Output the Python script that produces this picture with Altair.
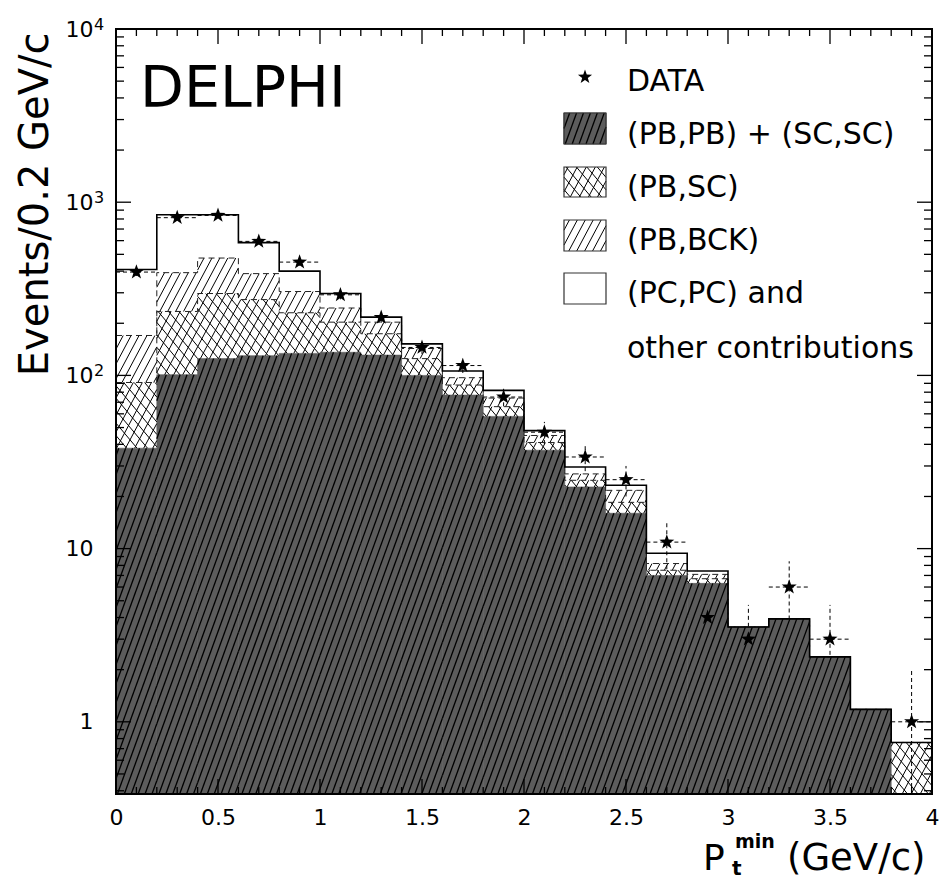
import math
import altair as alt
import pandas as pd

# ---------------- data ----------------
BIN_LO = [0.0, 0.2, 0.4, 0.6, 0.8, 1.0, 1.2, 1.4, 1.6, 1.8,
          2.0, 2.2, 2.4, 2.6, 2.8, 3.0, 3.2, 3.4, 3.6, 3.8]
BIN_WIDTH = 0.2
# cumulative (stacked) levels, Events / 0.2 GeV/c
PBPB_SCSC = [38, 101, 125, 130, 134, 136, 131, 100, 77, 58,
             37, 22.7, 16, 7.0, 6.3, 3.53, 3.93, 2.37, 1.18, None]
PBSC_CUM = [91, 234, 297, 274, 230, 203, 174, 125, 88, 66,
            41, 24.8, 18.5, 7.5, 6.7, 3.53, 3.93, 2.37, 1.18, 0.76]
PBBCK_CUM = [170, 392, 476, 387, 305, 245, 203, 143, 97, 74,
             45, 27, 21.7, 8.2, 7.1, 3.53, 3.93, 2.37, 1.18, 0.76]
TOTAL_CUM = [409, 847, 847, 584, 400, 297, 217, 152, 106, 82,
             48, 29.6, 23.2, 9.4, 7.43, 3.53, 3.93, 2.37, 1.18, 0.76]
DATA_Y = [395, 814, 839, 594, 451, 292, 216, 145, 114, 75,
          47, 33.8, 25, 10.9, 4.0, 3.0, 6.0, 3.0, None, 1.0]
DATA_ERR = [20, 28.5, 29, 24.4, 21.2, 17.1, 14.7, 12.0, 10.7, 8.7,
            6.9, 5.8, 5.0, 3.3, 2.0, 1.73, 2.45, 1.73, None, 1.0]

X_MAJOR = [0, 0.5, 1, 1.5, 2, 2.5, 3, 3.5, 4]
X_MINOR = [0.1, 0.2, 0.3, 0.4, 0.6, 0.7, 0.8, 0.9, 1.1, 1.2, 1.3, 1.4,
           1.6, 1.7, 1.8, 1.9, 2.1, 2.2, 2.3, 2.4, 2.6, 2.7, 2.8, 2.9,
           3.1, 3.2, 3.3, 3.4, 3.6, 3.7, 3.8, 3.9]
Y_MAJOR = [1, 10, 100, 1000, 10000]
Y_LABEL_BASE = ["1", "10", "10", "10", "10"]
Y_LABEL_EXP = ["", "", "2", "3", "4"]
Y_MINOR = [0.4, 0.5, 0.6, 0.7, 0.8, 0.9,
           2, 3, 4, 5, 6, 7, 8, 9,
           20, 30, 40, 50, 60, 70, 80, 90,
           200, 300, 400, 500, 600, 700, 800, 900,
           2000, 3000, 4000, 5000, 6000, 7000, 8000, 9000]

LEGEND_LABELS = ["DATA", "(PB,PB) + (SC,SC)", "(PB,SC)", "(PB,BCK)",
                 "(PC,PC) and", "other contributions"]

# ---------------- layout / style ----------------
W, H = 816, 765
YMIN, YMAX = 0.383, 10000
XMIN, XMAX = 0, 4
FONT = "DejaVu Sans"
DARK = "#5c5c5c"
PXX = W / (XMAX - XMIN)
PXY = H / (math.log10(YMAX) - math.log10(YMIN))

xscale = alt.Scale(domain=[XMIN, XMAX], nice=False, zero=False)
yscale = alt.Scale(type="log", domain=[YMIN, YMAX], nice=False)
xaxis = alt.Axis(values=X_MAJOR, format="~g", ticks=False, tickSize=0, domain=False,
                 grid=False, labelFont=FONT, labelFontSize=22, labelPadding=13,
                 labelFlush=False, labelOverlap=False, labelColor="black", title=None)
yaxis = alt.Axis(values=Y_MAJOR,
                 labelExpr="datum.value >= 10 ? '10' : '1'",
                 ticks=False, tickSize=0, domain=False, grid=False,
                 labelFont=FONT, labelFontSize=22, labelPadding=23,
                 labelFlush=False, labelOverlap=False, labelColor="black",
                 title="Events/0.2 GeV/c", titleFont=FONT, titleFontSize=40,
                 titleFontWeight="normal", titleColor="black", titleAngle=270,
                 titleAlign="right", titleBaseline="alphabetic", titleX=-69, titleY=3)


def X(field):
    return alt.X(field, type="quantitative", scale=xscale, axis=xaxis)


def Y(field):
    return alt.Y(field, type="quantitative", scale=yscale, axis=yaxis)


def hatch(X0, X1, Y0, Y1, angle, spacing):
    """Segments of a line family clipped to a rectangle (pixel-like space)."""
    th = math.radians(angle)
    dx, dy = math.cos(th), math.sin(th)
    nx, ny = -dy, dx
    cs = [nx * a + ny * b for a in (X0, X1) for b in (Y0, Y1)]
    out = []
    for k in range(math.ceil(min(cs) / spacing), math.floor(max(cs) / spacing) + 1):
        c = k * spacing
        px, py = c * nx, c * ny
        tlo, thi = -1e9, 1e9
        for p, d, lo, hi in ((px, dx, X0, X1), (py, dy, Y0, Y1)):
            if abs(d) < 1e-12:
                if not (lo <= p <= hi):
                    tlo, thi = 1, 0
                continue
            a, b = (lo - p) / d, (hi - p) / d
            if a > b:
                a, b = b, a
            tlo, thi = max(tlo, a), min(thi, b)
        if thi - tlo > 0.8:
            out.append((px + tlo * dx, py + tlo * dy, px + thi * dx, py + thi * dy))
    return out


def band_hatch(lo, hi, vbot, vtop, families):
    rows = []
    for ang, sp in families:
        for a, b, c, d in hatch(lo * PXX, hi * PXX, math.log10(vbot) * PXY,
                                math.log10(vtop) * PXY, ang, sp):
            rows.append({"x1": a / PXX, "y1": 10 ** (b / PXY),
                         "x2": c / PXX, "y2": 10 ** (d / PXY)})
    return rows


def box_hatch(px0, px1, py0, py1, families):
    """Hatch for a legend box given in plot pixels; converted to data coords."""
    rows = []
    lymin = math.log10(YMIN)
    for ang, sp in families:
        for a, b, c, d in hatch(px0, px1, -py1, -py0, ang, sp):
            rows.append({"x1": a / PXX, "y1": 10 ** ((H + b) / PXY + lymin),
                         "x2": c / PXX, "y2": 10 ** ((H + d) / PXY + lymin)})
    return rows


FAM_DARK = [(70, 6.5)]
FAM_SC = [(62, 8.0), (130, 8.0)]
FAM_BCK = [(62, 7.0)]

# ---------------- tables ----------------
hist = pd.DataFrame({"lo": BIN_LO, "dark": PBPB_SCSC, "sc": PBSC_CUM,
                     "bck": PBBCK_CUM, "tot": TOTAL_CUM})
hist["hi"] = hist["lo"] + BIN_WIDTH
hist["dark_b"] = YMIN

dark_rows, sc_rows, bck_rows = [], [], []
for lo, dk, sc, bk in zip(BIN_LO, PBPB_SCSC, PBSC_CUM, PBBCK_CUM):
    hi = lo + BIN_WIDTH
    base = dk if dk is not None else YMIN
    if dk is not None:
        dark_rows += band_hatch(lo, hi, YMIN, dk, FAM_DARK)
    if sc > base:
        sc_rows += band_hatch(lo, hi, base, sc, FAM_SC)
    if bk > sc:
        bck_rows += band_hatch(lo, hi, sc, bk, FAM_BCK)

# legend boxes (plot pixels)
BOX_X0, BOX_X1 = 448, 490
BOX_Y = [(84, 115), (138, 168), (191, 222), (244, 275)]
dark_box = box_hatch(BOX_X0, BOX_X1, BOX_Y[0][0], BOX_Y[0][1], FAM_DARK)
sc_rows += box_hatch(BOX_X0, BOX_X1, BOX_Y[1][0], BOX_Y[1][1], FAM_SC)
bck_rows += box_hatch(BOX_X0, BOX_X1, BOX_Y[2][0], BOX_Y[2][1], FAM_BCK)

edges = BIN_LO + [XMAX]


def step_frame(levels):
    vals = [v if v is not None else YMIN for v in levels]
    return pd.DataFrame({"x": edges, "v": vals + [vals[-1]]})


pts = pd.DataFrame({"lo": BIN_LO, "y": DATA_Y, "e": DATA_ERR})
pts = pts.dropna()
pts["hi"] = pts["lo"] + BIN_WIDTH
pts["xc"] = pts["lo"] + BIN_WIDTH / 2
pts["ylo"] = (pts["y"] - pts["e"]).clip(lower=YMIN)
pts["yhi"] = pts["y"] + pts["e"]

STAR = ("M0,-1L0.235,-0.324L0.951,-0.309L0.38,0.124L0.588,0.809L0,0.4"
        "L-0.588,0.809L-0.38,0.124L-0.951,-0.309L-0.235,-0.324Z")


def hatch_layer(rows, width=1.0):
    return alt.Chart(pd.DataFrame(rows)).mark_rule(color="black", strokeWidth=width).encode(
        x=X("x1"), x2="x2", y=Y("y1"), y2="y2")


layers = []

# data error bars (dashed), drawn first so the filled regions hide them
layers.append(
    alt.Chart(pts).mark_rule(color="black", strokeWidth=1, strokeDash=[4, 3])
    .encode(x=X("xc"), y=Y("ylo"), y2="yhi")
)
layers.append(
    alt.Chart(pts).mark_rule(color="black", strokeWidth=1, strokeDash=[4, 3])
    .encode(x=X("lo"), x2="hi", y=Y("y"))
)

# dark region fill + hatch
layers.append(
    alt.Chart(hist).transform_filter("isValid(datum.dark)")
    .mark_rect(fill=DARK, stroke=DARK, strokeWidth=0.6)
    .encode(x=X("lo"), x2="hi", y=Y("dark"), y2="dark_b")
)
layers.append(hatch_layer(dark_rows, 1.3))
layers.append(hatch_layer(sc_rows, 1.0))
layers.append(hatch_layer(bck_rows, 1.0))

# dashed tops of the hatched components
for lv in (PBSC_CUM, PBBCK_CUM):
    layers.append(
        alt.Chart(step_frame(lv)).mark_line(interpolate="step-after", color="#222",
                                            strokeWidth=1, strokeDash=[6, 4])
        .encode(x=X("x"), y=Y("v"))
    )
# solid total histogram outline
layers.append(
    alt.Chart(step_frame(TOTAL_CUM)).mark_line(interpolate="step-after", color="black",
                                               strokeWidth=1.6)
    .encode(x=X("x"), y=Y("v"))
)

# stars
layers.append(
    alt.Chart(pts).mark_point(shape=STAR, filled=True, color="black", size=250, opacity=1)
    .encode(x=X("xc"), y=Y("y"))
)

# inward ticks on all four sides
for side_y, sgn in ((H, -1), (0, 1)):
    for vals, ln in ((X_MAJOR, 15), (X_MINOR, 7)):
        layers.append(
            alt.Chart(pd.DataFrame({"v": vals})).mark_rule(color="black", strokeWidth=1.3)
            .encode(x=X("v"), y=alt.value(side_y), y2=alt.value(side_y + sgn * ln))
        )
for side_x, sgn in ((0, 1), (W, -1)):
    for vals, ln in ((Y_MAJOR, 15), (Y_MINOR, 8)):
        layers.append(
            alt.Chart(pd.DataFrame({"v": vals})).mark_rule(color="black", strokeWidth=1.3)
            .encode(y=Y("v"), x=alt.value(side_x), x2=alt.value(side_x + sgn * ln))
        )

# exponents of the y tick labels
yl = pd.DataFrame({"v": Y_MAJOR, "e": Y_LABEL_EXP})
yl = yl[yl["e"] != ""]
layers.append(
    alt.Chart(yl).mark_text(align="left", baseline="alphabetic", font=FONT,
                            fontSize=16, color="black", dy=1)
    .encode(y=Y("v"), x=alt.value(-22), text="e:N")
)

# frame
one = pd.DataFrame({"k": [0]})
layers.append(
    alt.Chart(one).mark_rect(filled=False, stroke="black", strokeWidth=2)
    .encode(x=alt.value(0), x2=alt.value(W), y=alt.value(0), y2=alt.value(H))
)

# DELPHI label
layers.append(
    alt.Chart(one).mark_text(text="DELPHI", align="left", baseline="alphabetic",
                             font=FONT, fontSize=57, color="black")
    .encode(x=alt.value(24), y=alt.value(78))
)

# legend
layers.append(
    alt.Chart(one).mark_point(shape=STAR, filled=True, color="black", size=220, opacity=1)
    .encode(x=alt.value(469), y=alt.value(48))
)
layers.append(
    alt.Chart(one).mark_rect(fill=DARK, stroke=DARK)
    .encode(x=alt.value(BOX_X0), x2=alt.value(BOX_X1),
            y=alt.value(BOX_Y[0][0]), y2=alt.value(BOX_Y[0][1]))
)
layers.append(hatch_layer(dark_box, 1.3))
for (y0, y1) in BOX_Y:
    layers.append(
        alt.Chart(one).mark_rect(filled=False, stroke="#333", strokeWidth=1.2)
        .encode(x=alt.value(BOX_X0), x2=alt.value(BOX_X1), y=alt.value(y0), y2=alt.value(y1))
    )
LEG_BASE = [62, 115, 168, 221, 274, 329]
for lab, yb in zip(LEGEND_LABELS, LEG_BASE):
    layers.append(
        alt.Chart(one).mark_text(text=lab, align="left", baseline="alphabetic",
                                 font=FONT, fontSize=30, color="black")
        .encode(x=alt.value(511), y=alt.value(yb))
    )

# x-axis title  P_t^min (GeV/c)
for txt, xx, yy, fs, fw in (("P", 587, 841, 36, "normal"),
                            ("t", 616, 846, 20, "bold"),
                            ("min", 619, 819, 19, "bold"),
                            ("(GeV/c)", 671, 841, 37, "normal")):
    layers.append(
        alt.Chart(one).mark_text(text=txt, align="left", baseline="alphabetic",
                                 font=FONT, fontSize=fs, fontWeight=fw, color="black")
        .encode(x=alt.value(xx), y=alt.value(yy))
    )

chart = (
    alt.layer(*layers)
    .properties(width=W, height=H,
                autosize=alt.AutoSizeParams(type="none"),
                padding={"left": 116, "top": 29, "right": 8, "bottom": 86})
    .configure_view(stroke=None)
    .configure(background="white")
)

chart.save("out.html", embed_options={"renderer": "svg", "actions": False})
